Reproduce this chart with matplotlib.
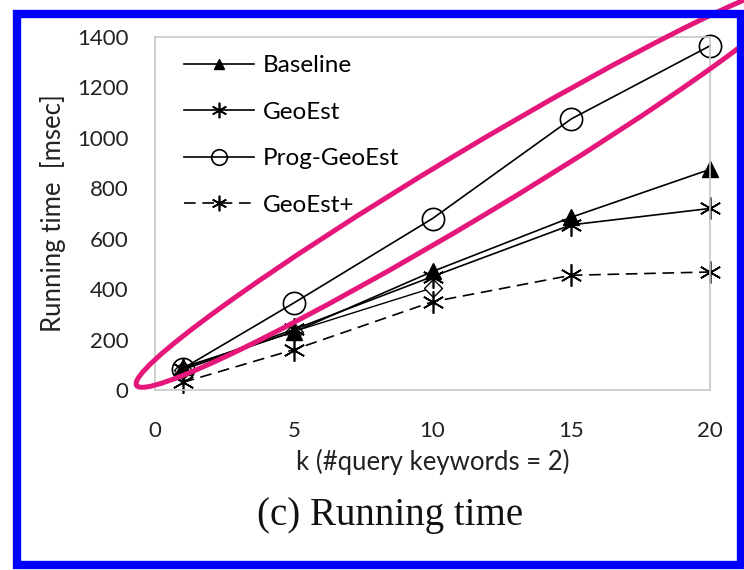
import matplotlib.pyplot as plt
from matplotlib.patches import Ellipse, Rectangle

# data
k = [1, 5, 10, 15, 20]
baseline = [90, 230, 470, 685, 875]
geoest = [85, 240, 450, 655, 720]
prog_geoest = [85, 345, 680, 1075, 1365]
geoest_plus = [30, 160, 350, 455, 468]
k_hidden = [1, 5, 10]
hidden = [80, 232, 405]  # diamond markers, not in legend

xticks = [0, 5, 10, 15, 20]
yticks = [0, 200, 400, 600, 800, 1000, 1200, 1400]

plt.rcParams['font.family'] = ['Lato', 'DejaVu Sans']

fig = plt.figure(figsize=(7.44, 5.70), dpi=100)
W, H = 744, 570
ax = fig.add_axes([155 / W, 1 - 390 / H, (710 - 155) / W, (390 - 37) / H])

star = (6, 2, 0)
ax.plot(k_hidden, hidden, color='black', lw=1.0, marker='D', ms=9, mfc='white', mec='black', mew=1.0,
        clip_on=False)
ax.plot(k, baseline, color='black', lw=1.2, marker='^', ms=11, mfc='black', mec='black', label='Baseline',
        clip_on=False)
ax.plot(k, geoest, color='black', lw=1.2, marker=star, ms=16, mew=1.2, label='GeoEst', clip_on=False)
ax.plot(k, prog_geoest, color='black', lw=1.2, marker='o', ms=16, mfc='none', mec='black', mew=1.2,
        label='Prog-GeoEst', clip_on=False)
ax.plot(k, geoest_plus, color='black', lw=1.2, ls=(0, (7, 4)), marker=star, ms=16, mew=1.2,
        label='GeoEst+', clip_on=False)

ax.set_xlim(0, 20)
ax.set_ylim(0, 1400)
ax.set_xticks(xticks)
ax.set_yticks(yticks)
ax.tick_params(length=0, labelsize=16, colors='#222222')
ax.tick_params(axis='x', pad=22)
ax.tick_params(axis='y', pad=19)
for s in ax.spines.values():
    s.set_color('#c8c8c8')
    s.set_linewidth(1.2)
ax.set_xlabel('k (#query keywords = 2)', fontsize=18.5, color='#222222', labelpad=6)
ax.set_ylabel('Running time  [msec]', fontsize=18.5, color='#222222', labelpad=8)

leg = ax.legend(loc='upper left', bbox_to_anchor=(0.012, 1.01), frameon=False, fontsize=17.5,
                handlelength=2.9, handletextpad=0.35, labelspacing=1.05, markerscale=0.7)

# overlay for caption, ellipse and border, in pixel coordinates
ov = fig.add_axes([0, 0, 1, 1], facecolor='none')
ov.set_xlim(0, W)
ov.set_ylim(H, 0)
ov.axis('off')
ov.text(390, 516, '(c) Running time', family=['Liberation Serif', 'DejaVu Serif'], fontsize=28,
        ha='center', va='center', color='#111111')
ov.add_patch(Ellipse((470, 185), 778, 66, angle=-31, fill=False, ec='#e6177b', lw=3.6))
ov.add_patch(Rectangle((17, 14), 724, 551, fill=False, ec='#0000ff', lw=6))

fig.savefig('out.png', dpi=100)
